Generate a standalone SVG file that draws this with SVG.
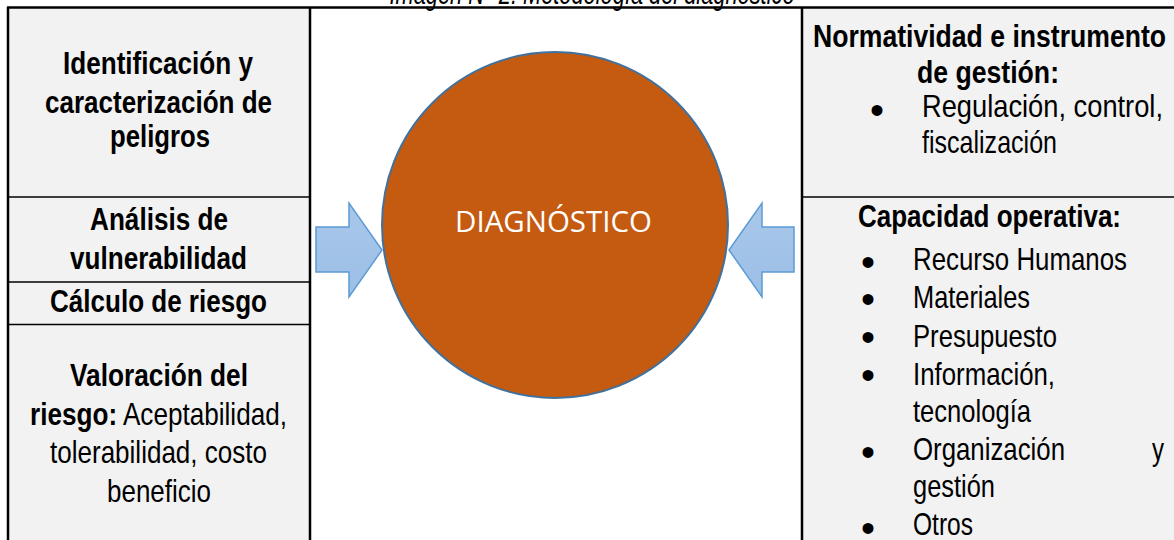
<svg xmlns="http://www.w3.org/2000/svg" width="1174" height="540" viewBox="0 0 1174 540">
<defs>
<style>
.t{font-family:"Liberation Sans",Arial,sans-serif;font-size:32px;fill:#000}
.b{font-weight:bold}
.c{text-anchor:middle}
.bul{font-family:"Liberation Sans",Arial,sans-serif;font-size:40px;text-anchor:middle;fill:#000}
.cell{fill:#f2f2f2}
.thick{stroke:#000;stroke-width:2.5;fill:none}
.thin{stroke:#000;stroke-width:1.5;fill:none}
.arrow{fill:url(#ag);stroke:#5b9bd5;stroke-width:1.5;stroke-linejoin:miter}
</style>
<linearGradient id="ag" x1="0" y1="0" x2="0" y2="1">
<stop offset="0" stop-color="#a9c7ea"/>
<stop offset="1" stop-color="#9cbfe6"/>
</linearGradient>
</defs>
<rect width="1174" height="540" fill="#fff"/>
<text x="592" y="4" class="t c" font-style="italic" font-size="27" textLength="405" lengthAdjust="spacingAndGlyphs">Imagen N° 2: Metodología del diagnóstico</text>
<rect class="cell" x="8" y="7" width="302" height="533"/>
<rect class="cell" x="802" y="7" width="372" height="533"/>
<g id="borders">
<line class="thick" x1="7" y1="7.5" x2="1174" y2="7.5"/>
<line class="thick" x1="8" y1="7" x2="8" y2="540"/>
<line class="thick" x1="310" y1="7" x2="310" y2="540"/>
<line class="thick" x1="802" y1="7" x2="802" y2="540"/>
<line class="thin" x1="8" y1="197" x2="310" y2="197"/>
<line class="thin" x1="8" y1="282" x2="310" y2="282"/>
<line class="thin" x1="8" y1="324.5" x2="310" y2="324.5"/>
<line class="thin" x1="802" y1="197" x2="1174" y2="197"/>
</g>
<g id="identificacion">
<text class="t b c" x="158" y="74" textLength="190" lengthAdjust="spacingAndGlyphs">Identificación y</text>
<text class="t b c" x="158.5" y="113" textLength="227" lengthAdjust="spacingAndGlyphs">caracterización de</text>
<text class="t b c" x="160" y="147" textLength="100" lengthAdjust="spacingAndGlyphs">peligros</text>
</g>
<g id="analisis">
<text class="t b c" x="159" y="230" textLength="138" lengthAdjust="spacingAndGlyphs">Análisis de</text>
<text class="t b c" x="158.5" y="269" textLength="177" lengthAdjust="spacingAndGlyphs">vulnerabilidad</text>
</g>
<g id="calculo">
<text class="t b c" x="158.5" y="312" textLength="217" lengthAdjust="spacingAndGlyphs">Cálculo de riesgo</text>
</g>
<g id="valoracion">
<text class="t b c" x="159" y="386" textLength="178" lengthAdjust="spacingAndGlyphs">Valoración del</text>
<text class="t" x="30" y="425" textLength="257" lengthAdjust="spacingAndGlyphs"><tspan class="b">riesgo:</tspan> Aceptabilidad,</text>
<text class="t c" x="158.5" y="463" textLength="217" lengthAdjust="spacingAndGlyphs">tolerabilidad, costo</text>
<text class="t c" x="159" y="502" textLength="104" lengthAdjust="spacingAndGlyphs">beneficio</text>
</g>
<g id="diagnostico">
<circle cx="555" cy="225" r="173" fill="#c55a11" stroke="#41719c" stroke-width="2"/>
<text x="553.5" y="232" font-family="'Open Sans','Liberation Sans',sans-serif" font-size="28.5" fill="#fff" text-anchor="middle" textLength="197" lengthAdjust="spacingAndGlyphs">DIAGNÓSTICO</text>
</g>
<g id="normatividad">
<text class="t b" x="813" y="47" textLength="353" lengthAdjust="spacingAndGlyphs">Normatividad e instrumento</text>
<text class="t b" x="917" y="83" textLength="142" lengthAdjust="spacingAndGlyphs">de gestión:</text>
<text class="bul" x="877" y="124">•</text>
<text class="t" x="922" y="117" textLength="241" lengthAdjust="spacingAndGlyphs">Regulación, control,</text>
<text class="t" x="922" y="153" textLength="135" lengthAdjust="spacingAndGlyphs">fiscalización</text>
</g>
<g id="capacidad">
<text class="t b" x="858" y="227" textLength="263" lengthAdjust="spacingAndGlyphs">Capacidad operativa:</text>
<text class="bul" x="868" y="276">•</text>
<text class="t" x="913" y="270" textLength="214" lengthAdjust="spacingAndGlyphs">Recurso Humanos</text>
<text class="bul" x="868" y="313">•</text>
<text class="t" x="913" y="308" textLength="117" lengthAdjust="spacingAndGlyphs">Materiales</text>
<text class="bul" x="868" y="351">•</text>
<text class="t" x="913" y="347" textLength="144" lengthAdjust="spacingAndGlyphs">Presupuesto</text>
<text class="bul" x="868" y="389">•</text>
<text class="t" x="913" y="385" textLength="142" lengthAdjust="spacingAndGlyphs">Información,</text>
<text class="t" x="913" y="422" textLength="118" lengthAdjust="spacingAndGlyphs">tecnología</text>
<text class="bul" x="868" y="466">•</text>
<text class="t" x="913" y="460" textLength="152" lengthAdjust="spacingAndGlyphs">Organización</text>
<text class="t" x="1152" y="460" textLength="12" lengthAdjust="spacingAndGlyphs">y</text>
<text class="t" x="913" y="497" textLength="82" lengthAdjust="spacingAndGlyphs">gestión</text>
<text class="bul" x="868" y="542">•</text>
<text class="t" x="913" y="535" textLength="60" lengthAdjust="spacingAndGlyphs">Otros</text>
</g>
<g id="connectors">
<path class="arrow" d="M316,227 H349 V203 L382,250 L349,297 V272 H316 Z"/>
<path class="arrow" d="M794,227 H762 V203 L729,250 L762,297 V272 H794 Z"/>
</g>
</svg>
